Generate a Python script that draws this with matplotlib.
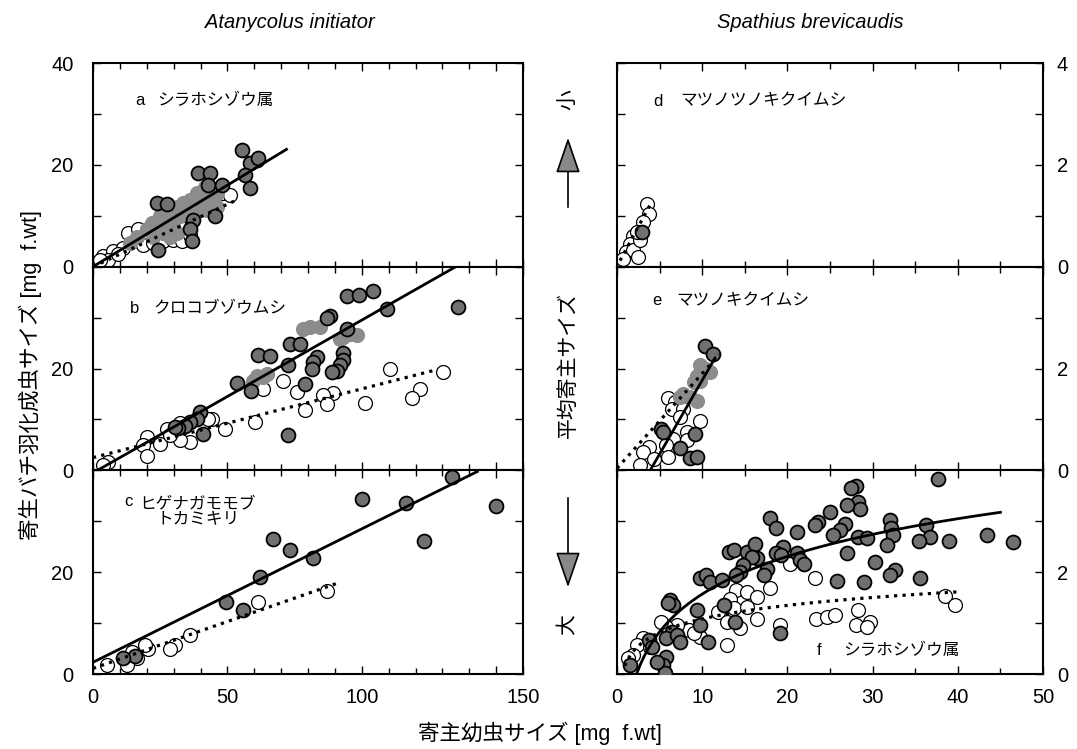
import numpy as np
import matplotlib
matplotlib.use('Agg')
import matplotlib.pyplot as plt
from matplotlib.patches import FancyArrowPatch
from matplotlib.ticker import MultipleLocator

plt.rcParams['font.family'] = ['Liberation Sans', 'Noto Sans CJK JP']

# --- data (x: host larva size, y: wasp size / mean host size) ---
a_filled = [(55.3, 22.9), (60.9, 21.0), (58.4, 20.4), (61.5, 21.3), (56.6, 18.0), (58.4, 15.5),
            (39.2, 18.4), (43.5, 18.4), (42.9, 16.1), (47.9, 16.1), (23.7, 12.5), (27.4, 12.4),
            (37.3, 9.2), (45.4, 9.9), (36.1, 7.3), (36.7, 5.0), (24.3, 3.3)]
a_dense = [(21.8, 8.6), (24.9, 9.9), (28.7, 10.5), (31.1, 11.8), (33.6, 12.5), (36.1, 13.1),
           (38.6, 14.5), (41.0, 13.8), (43.5, 13.1), (46.0, 11.8), (29.9, 7.9), (26.2, 6.6),
           (22.4, 5.9), (32.4, 9.9), (39.8, 11.2), (42.3, 11.2), (34.9, 10.5), (27.4, 8.6),
           (20.0, 7.3), (31.1, 6.6), (23.7, 7.9), (28.7, 5.9), (41.7, 15.7), (46.0, 14.5),
           (16.3, 5.9), (13.8, 4.6)]
a_open = [(3.8, 2.0), (7.6, 3.0), (11.3, 3.7), (15.0, 5.0), (18.7, 4.3), (22.4, 4.6), (26.2, 5.0),
          (29.9, 5.3), (33.0, 5.0), (36.1, 6.3), (48.5, 14.5), (51.0, 14.1), (5.7, 1.4), (9.4, 2.4),
          (13.1, 6.6), (16.9, 7.3), (2.6, 1.4)]

b_filled = [(94.4, 34.3), (99.1, 34.4), (104.3, 35.3), (135.9, 32.0), (109.3, 31.7), (88.2, 30.4),
            (86.9, 29.9), (94.4, 27.8), (73.3, 24.8), (77.0, 24.8), (61.5, 22.7), (65.9, 22.5),
            (72.7, 20.7), (83.2, 22.2), (82.0, 21.2), (81.4, 19.9), (93.1, 23.1), (93.1, 21.6),
            (91.9, 20.6), (90.7, 19.6), (88.8, 19.4), (53.5, 17.2), (58.8, 15.5), (78.9, 17.0),
            (39.8, 11.4), (38.6, 10.1), (36.1, 9.5), (34.2, 8.8), (31.7, 8.3), (41.0, 7.2),
            (72.7, 6.9), (30.5, 8.5)]
b_dense = [(80.7, 28.1), (84.5, 28.1), (78.3, 27.8), (95.6, 26.8), (98.1, 26.5), (93.1, 26.1),
           (91.9, 25.8), (60.9, 18.6), (63.4, 18.3), (59.6, 17.6), (64.6, 19.0)]
b_open = [(110.5, 19.9), (130.4, 19.3), (121.7, 15.9), (118.6, 14.2), (101.2, 13.3), (89.4, 15.2),
          (85.7, 14.8), (86.9, 13.0), (78.9, 11.8), (75.8, 15.4), (70.8, 17.6), (63.4, 16.0),
          (60.3, 9.4), (49.1, 8.2), (44.2, 10.1), (42.9, 10.0), (36.1, 5.6), (32.4, 5.9),
          (32.4, 9.2), (27.4, 8.2), (24.9, 5.2), (28.7, 6.9), (20.0, 6.5), (18.7, 4.9),
          (20.0, 2.9), (5.7, 1.6), (3.8, 1.0)]

c_filled = [(133.5, 38.7), (100.0, 34.4), (116.5, 33.5), (150.0, 33.0), (123.3, 26.1), (66.9, 26.5),
            (73.3, 24.3), (81.7, 22.7), (62.1, 19.1), (49.5, 14.2), (55.7, 12.5), (15.6, 3.6),
            (11.3, 3.1)]
c_open = [(87.2, 16.3), (61.5, 14.1), (36.1, 7.6), (30.5, 5.7), (28.7, 5.0), (20.6, 5.0),
          (19.3, 5.7), (16.3, 3.1), (12.5, 1.8), (14.4, 4.4), (5.1, 1.8)]

d_filled = [(2.9, 0.69)]
d_open = [(3.5, 1.24), (3.7, 1.04), (3.1, 0.88), (1.9, 0.61), (1.5, 0.45), (1.1, 0.29),
          (1.9, 0.32), (2.5, 0.19), (0.74, 0.16), (2.7, 0.52), (2.3, 0.68)]

e_filled = [(10.3, 2.45), (11.3, 2.29), (5.2, 0.82), (5.4, 0.75), (9.2, 0.72), (7.4, 0.43),
            (8.6, 0.24), (9.4, 0.26)]
e_dense = [(9.7, 2.06), (10.5, 1.99), (9.4, 1.86), (10.9, 1.93), (9.0, 1.73), (9.7, 1.76),
           (7.8, 1.50), (8.6, 1.44), (9.4, 1.37), (7.4, 1.44)]
e_open = [(6.0, 1.42), (6.8, 1.34), (6.4, 1.21), (7.8, 1.21), (7.4, 1.05), (9.7, 0.96),
          (8.2, 0.75), (6.6, 0.62), (8.2, 0.59), (5.8, 0.49), (3.7, 0.46), (3.1, 0.36),
          (4.3, 0.23), (2.7, 0.10), (6.0, 0.26)]

f_filled = [(37.7, 3.82), (28.1, 3.69), (27.5, 3.65), (28.3, 3.38), (28.5, 3.25), (18.0, 3.07),
            (18.7, 2.86), (21.1, 2.79), (23.6, 2.99), (23.2, 2.92), (25.0, 3.18), (27.0, 3.31),
            (26.8, 2.95), (26.2, 2.82), (25.4, 2.73), (28.3, 2.69), (29.3, 2.67), (32.0, 3.02),
            (32.2, 2.86), (32.4, 2.73), (31.7, 2.53), (36.3, 2.92), (36.7, 2.69), (35.4, 2.61),
            (39.0, 2.61), (43.4, 2.73), (46.5, 2.59), (13.1, 2.40), (13.7, 2.43), (15.2, 2.40),
            (16.2, 2.56), (16.4, 2.27), (15.8, 2.30), (19.5, 2.50), (18.7, 2.37), (19.3, 2.33),
            (21.1, 2.37), (21.5, 2.24), (21.9, 2.17), (27.0, 2.37), (30.3, 2.20), (32.6, 2.04),
            (32.0, 1.94), (35.6, 1.88), (29.0, 1.80), (25.8, 1.82), (14.8, 2.14), (14.4, 2.01),
            (14.0, 1.94), (17.6, 2.07), (17.2, 1.94), (9.7, 1.88), (10.5, 1.94), (10.9, 1.81),
            (12.3, 1.84), (6.2, 1.45), (6.6, 1.35), (6.0, 1.39), (9.4, 1.25), (12.5, 1.35),
            (13.8, 1.03), (9.7, 0.96), (6.4, 0.83), (5.8, 0.70), (7.0, 0.76), (7.4, 0.63),
            (10.7, 0.63), (3.7, 0.67), (4.1, 0.54), (5.8, 0.34), (5.4, 0.18), (5.6, 0.01),
            (1.5, 0.18), (19.1, 0.80), (4.7, 0.24)]
f_open = [(20.3, 2.17), (23.2, 1.88), (14.0, 1.65), (15.2, 1.61), (16.4, 1.52), (18.0, 1.68),
          (13.3, 1.48), (13.7, 1.29), (11.9, 1.22), (15.2, 1.32), (16.4, 1.09), (14.4, 0.90),
          (12.9, 1.03), (19.1, 0.97), (23.4, 1.09), (24.6, 1.12), (25.6, 1.16), (28.3, 1.25),
          (28.1, 0.96), (29.7, 1.03), (29.3, 0.93), (38.5, 1.54), (39.7, 1.35), (12.9, 0.57),
          (9.7, 0.73), (8.4, 0.86), (7.0, 0.96), (5.8, 0.93), (9.0, 0.80), (3.1, 0.70),
          (2.3, 0.57), (1.9, 0.37), (1.3, 0.31), (5.2, 1.03), (3.9, 0.54)]

# fitted lines: (kind, a, b, x_from, x_to); lin: y = a*x + b, log: y = a + b*ln(x)
a_fits = [('lin', 0.32, 0.0, 0, 72, '-'), ('lin', 0.245, 0.0, 0, 54, ':')]
b_fits = [('lin', 0.30, -0.5, 1.7, 135, '-'), ('lin', 0.135, 2.5, 0, 128, ':')]
c_fits = [('lin', 0.262, 2.3, 0, 143, '-'), ('lin', 0.184, 1.1, 0, 91, ':')]
d_fits = [('lin', 0.31, 0.01, 0.35, 4.1, ':')]
e_fits = [('lin', 0.29, -1.13, 3.9, 11.5, '-'), ('lin', 0.186, 0.04, 0, 12, ':')]
f_fits = [('log', -0.89, 1.068, 2.3, 45, '-'), ('log', 0.20, 0.383, 0.9, 40, ':')]

panels = [
    ('a', 'シラホシゾウ属', a_filled, a_dense, a_open, a_fits),
    ('b', 'クロコブゾウムシ', b_filled, b_dense, b_open, b_fits),
    ('c', 'ヒゲナガモモブ\nトカミキリ', c_filled, [], c_open, c_fits),
    ('d', 'マツノツノキクイムシ', d_filled, [], d_open, d_fits),
    ('e', 'マツノキクイムシ', e_filled, e_dense, e_open, e_fits),
    ('f', 'シラホシゾウ属', f_filled, [], f_open, f_fits),
]

fig = plt.figure(figsize=(10.77, 7.49), dpi=100)
W, H = 1077, 749
top_px, bot_px = 63, 674
ph = (bot_px - top_px) / 3 / H
cols = [(93 / W, 430 / W), (617 / W, 426 / W)]

ms = 10
for i, (letter, name, filled, dense, opn, fits) in enumerate(panels):
    col = i // 3
    row = i % 3
    left, width = cols[col]
    bottom = 1 - bot_px / H + (2 - row) * ph
    ax = fig.add_axes([left, bottom, width, ph])

    if opn:
        ox, oy = zip(*opn)
        ax.plot(ox, oy, 'o', ms=ms, mfc='white', mec='black', mew=0.9, zorder=2)
    if dense:
        gx, gy = zip(*dense)
        ax.plot(gx, gy, 'o', ms=ms, mfc='#8c8c8c', mec='#8c8c8c', mew=0.9, zorder=3)
    fx, fy = zip(*filled)
    ax.plot(fx, fy, 'o', ms=ms, mfc='#707070', mec='black', mew=1.3, zorder=4)

    for kind, p1, p2, x0, x1, ls in fits:
        xs = np.linspace(x0, x1, 100)
        if kind == 'lin':
            ys = p1 * xs + p2
        else:
            ys = p1 + p2 * np.log(xs)
        ax.plot(xs, ys, ls=ls, color='black', lw=2.0 if ls == '-' else 2.3, zorder=5)

    ax.tick_params(which='both', direction='in', top=True, right=True, labelsize=14.5)
    ax.tick_params(which='major', length=6, width=1)
    ax.tick_params(which='minor', length=4, width=1)
    for sp in ax.spines.values():
        sp.set_linewidth(1.5)

    if col == 0:
        ax.set_xlim(0, 160)
        ax.set_ylim(0, 40)
        ax.set_xticks([0, 50, 100, 150, 160])
        ax.xaxis.set_minor_locator(MultipleLocator(10))
        ax.set_yticks([0, 10, 20, 30, 40])
        ax.set_yticklabels(['0', '', '20', '', '40' if row == 0 else ''])
        if row == 2:
            ax.set_xticklabels(['0', '50', '100', '', '150'])
        else:
            ax.set_xticklabels([])
        ax.tick_params(axis='x', pad=10)
        ax.tick_params(axis='y', pad=14)
        if letter == 'c':
            ax.text(11.5, 33.9, letter, fontsize=12, va='center')
            ax.text(39, 32.0, name, fontsize=12, va='center', ha='center',
                    multialignment='center', linespacing=1.0)
        else:
            lx = {'a': 15.6, 'b': 13.8}[letter]
            ly = {'a': 32.7, 'b': 31.8}[letter]
            tx = {'a': 24.0, 'b': 22.3}[letter]
            ax.text(lx, ly, letter, fontsize=12, va='center')
            ax.text(tx, ly, name, fontsize=12, va='center')
    else:
        ax.set_xlim(0, 50)
        ax.set_ylim(0, 4)
        ax.xaxis.set_major_locator(MultipleLocator(10))
        ax.xaxis.set_minor_locator(MultipleLocator(5))
        ax.set_yticks([0, 1, 2, 3, 4])
        ax.set_yticklabels(['0', '', '2', '', '4' if row == 0 else ''])
        ax.tick_params(axis='y', labelleft=False, labelright=True, pad=10)
        ax.tick_params(axis='x', pad=10)
        if row != 2:
            ax.set_xticklabels([])
        pos = {'d': (4.2, 3.25, 7.4), 'e': (4.1, 3.33, 7.0), 'f': (23.5, 0.47, 26.5)}[letter]
        ax.text(pos[0], pos[1], letter, fontsize=12, va='center')
        ax.text(pos[2], pos[1], name, fontsize=12, va='center')

# column titles
fig.text(290 / W, 1 - 22 / H, 'Atanycolus initiator', fontsize=14.5, style='italic',
         ha='center', va='center')
fig.text(810 / W, 1 - 22 / H, 'Spathius brevicaudis', fontsize=14.5, style='italic',
         ha='center', va='center')

# axis labels
fig.text(30 / W, 1 - 375 / H, '寄生バチ羽化成虫サイズ [mg  f.wt]', rotation=90, fontsize=15.5,
         ha='center', va='center')
fig.text(540 / W, 1 - 733 / H, '寄主幼虫サイズ [mg  f.wt]', fontsize=15.5, ha='center', va='center')

# middle label with arrows
mx = 568 / W
fig.text(mx, 1 - 100 / H, '小', rotation=90, fontsize=15, ha='center', va='center')
fig.text(mx, 1 - 365 / H, '平均寄主サイズ', rotation=90, fontsize=15, ha='center', va='center')
fig.text(mx, 1 - 625 / H, '大', rotation=90, fontsize=15, ha='center', va='center')
for y0, y1 in [(210, 135), (495, 590)]:
    arr = FancyArrowPatch((mx, 1 - y0 / H), (mx, 1 - y1 / H), transform=fig.transFigure,
                          arrowstyle='-|>,head_length=1.6,head_width=0.55', mutation_scale=14,
                          facecolor='#888888', edgecolor='black', lw=1.2)
    fig.add_artist(arr)

fig.savefig('out.png', dpi=100)
